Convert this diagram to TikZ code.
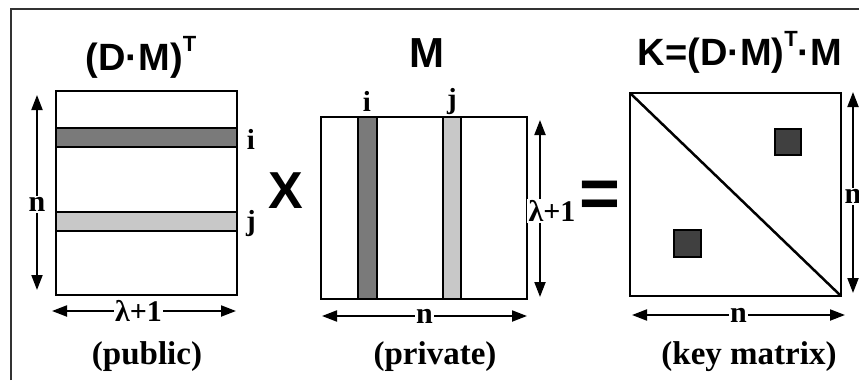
\documentclass[tikz,border=0pt]{standalone}
\usepackage{fontspec}
\setmainfont{Liberation Serif}
\newfontfamily\headfont{Liberation Sans}
\usetikzlibrary{arrows.meta}
\definecolor{darkband}{HTML}{7A7A7A}
\definecolor{lightband}{HTML}{C8C8C8}
\definecolor{keysq}{HTML}{404040}
\newcommand{\transp}{\raisebox{0.5em}{\fontsize{22}{22}\selectfont T}}
\tikzset{
  mat/.style={line width=2.5pt},
  dim/.style={line width=2pt,{Triangle[length=15pt,width=11pt]}-{Triangle[length=15pt,width=11pt]}},
  dimlbl/.style={fill=white,inner sep=1.5pt,font=\bfseries\fontsize{30}{32}\selectfont},
  idx/.style={inner sep=0pt,font=\bfseries\fontsize{29}{30}\selectfont},
  head/.style={inner sep=0pt,font=\headfont\bfseries\fontsize{38}{40}\selectfont},
  note/.style={inner sep=0pt,font=\bfseries\fontsize{33}{36}\selectfont}
}
\begin{document}
\begin{tikzpicture}[x=1pt,y=-1pt]
  \useasboundingbox (0,0) rectangle (859,380);
  \draw[line width=1.5pt,black!80] (11,380) -- (11,9) -- (859,9);

  % public matrix
  \node[head] (pubhead) at (141,57) {(D·M)\transp};
  \draw[mat] (56,91) rectangle (237,295);
  \filldraw[mat,fill=darkband] (56,128) rectangle (237,147);
  \filldraw[mat,fill=lightband] (56,212) rectangle (237,231);
  \node[idx] (pubi) at (251,139) {i};
  \node[idx] (pubj) at (251,224) {j};
  \coordinate (pubtop) at (37,95);
  \coordinate (pubbot) at (37,290);
  \draw[dim] (pubtop) -- (pubbot) node[dimlbl,pos=0.56] (pubn) {n};
  \coordinate (publeft) at (52,311);
  \coordinate (pubright) at (236,311);
  \draw[dim] (publeft) -- (pubright) node[dimlbl,pos=0.47] (publam) {λ+1};
  \node[note] (pubnote) at (147,357) {(public)};

  \node[inner sep=0pt,font=\headfont\bfseries\fontsize{52}{56}\selectfont] (times) at (286,191) {X};

  % private matrix
  \node[head,font=\headfont\bfseries\fontsize{42}{44}\selectfont] (privhead) at (427,53) {M};
  \draw[mat] (321,117) rectangle (527,299);
  \filldraw[mat,fill=darkband] (358,117) rectangle (377,299);
  \filldraw[mat,fill=lightband] (443,117) rectangle (461,299);
  \node[idx] (privi) at (367,101) {i};
  \node[idx] (privj) at (452,102) {j};
  \coordinate (privtop) at (540,120);
  \coordinate (privbot) at (540,297);
  \draw[dim] (privtop) -- (privbot);
  \node[dimlbl] (privlam) at (552,211) {λ+1};
  \coordinate (privleft) at (322,316);
  \coordinate (privright) at (527,316);
  \draw[dim] (privleft) -- (privright) node[dimlbl,midway] (privn) {n};
  \node[note] (privnote) at (435,357) {(private)};

  \node[inner sep=0pt,font=\headfont\bfseries\fontsize{70}{72}\selectfont] (equals) at (600,199) {=};

  % key matrix
  \node[head] (keyhead) at (740,52) {K=(D·M)\transp·M};
  \draw[mat] (630,93) rectangle (841,296);
  \draw[mat] (630,93) -- (841,296);
  \filldraw[line width=2pt,fill=keysq] (775,129) rectangle (801,155);
  \filldraw[line width=2pt,fill=keysq] (674,230) rectangle (701,257);
  \coordinate (keytop) at (853,92);
  \coordinate (keybot) at (853,293);
  \draw[dim] (keytop) -- (keybot) node[dimlbl,pos=0.52] (keyn) {n};
  \coordinate (keyleft) at (632,315);
  \coordinate (keyright) at (845,315);
  \draw[dim] (keyleft) -- (keyright) node[dimlbl,midway] (keyn2) {n};
  \node[note] (keynote) at (749,357) {(key matrix)};
\end{tikzpicture}
\end{document}
